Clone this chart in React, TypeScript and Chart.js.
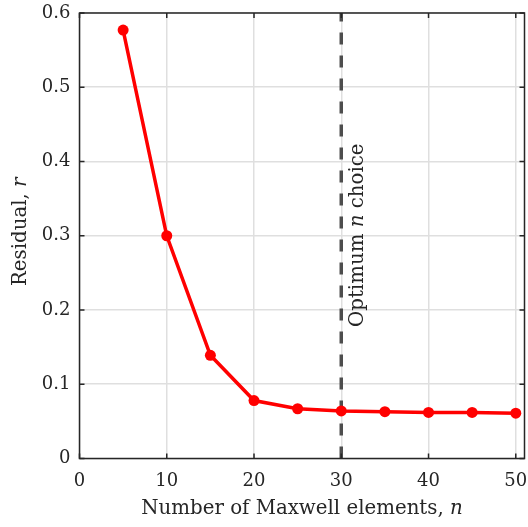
import React, { useEffect, useRef } from "react";
import { Chart, registerables } from "chart.js";

Chart.register(...registerables);

const nValues = [5, 10, 15, 20, 25, 30, 35, 40, 45, 50];
const residuals = [0.577, 0.3, 0.139, 0.078, 0.067, 0.064, 0.063, 0.062, 0.062, 0.061];
const xTicks = [0, 10, 20, 30, 40, 50];
const xTickLabels = ["0", "10", "20", "30", "40", "50"];
const yTicks = [0, 0.1, 0.2, 0.3, 0.4, 0.5, 0.6];
const yTickLabels = ["0", "0.1", "0.2", "0.3", "0.4", "0.5", "0.6"];
const xLimits = [0, 51];
const yLimits = [0, 0.6];
const optimumN = 30;
const xTitleParts = [
  { text: "Number of Maxwell elements, ", italic: false },
  { text: "n", italic: true },
];
const yTitleParts = [
  { text: "Residual, ", italic: false },
  { text: "r", italic: true },
];
const annotationParts = [
  { text: "Optimum ", italic: false },
  { text: "n", italic: true },
  { text: " choice", italic: false },
];

const FAMILY = "'DejaVu Serif', serif";
const FSIZE = 18;
const TSIZE = 19.8;
const TEXT = "#262626";

function drawParts(ctx: CanvasRenderingContext2D, parts: { text: string; italic: boolean }[], x: number, y: number, align: "center" | "left", size: number) {
  const fonts = parts.map((p) => `${p.italic ? "italic " : ""}${size}px ${FAMILY}`);
  let total = 0;
  const widths = parts.map((p, i) => {
    ctx.font = fonts[i];
    const w = ctx.measureText(p.text).width;
    total += w;
    return w;
  });
  let cx = align === "center" ? x - total / 2 : x;
  ctx.textAlign = "left";
  ctx.textBaseline = "middle";
  parts.forEach((p, i) => {
    ctx.font = fonts[i];
    ctx.fillText(p.text, cx, y);
    cx += widths[i];
  });
}

const framePlugin = {
  id: "frame",
  afterDraw(chart: any) {
    const ctx = chart.ctx as CanvasRenderingContext2D;
    const { left, right, top, bottom } = chart.chartArea;
    const xs = chart.scales.x;
    const ys = chart.scales.y;
    ctx.save();
    ctx.strokeStyle = TEXT;
    ctx.lineWidth = 1.5;
    ctx.strokeRect(left, top, right - left, bottom - top);
    const tl = 5;
    ctx.beginPath();
    xTicks.forEach((v) => {
      const px = xs.getPixelForValue(v);
      ctx.moveTo(px, bottom);
      ctx.lineTo(px, bottom - tl);
      ctx.moveTo(px, top);
      ctx.lineTo(px, top + tl);
    });
    yTicks.forEach((v) => {
      const py = ys.getPixelForValue(v);
      ctx.moveTo(left, py);
      ctx.lineTo(left + tl, py);
      ctx.moveTo(right, py);
      ctx.lineTo(right - tl, py);
    });
    ctx.stroke();

    ctx.fillStyle = TEXT;
    drawParts(ctx, xTitleParts, (left + right) / 2, 509, "center", TSIZE);

    ctx.save();
    ctx.translate(21, (top + bottom) / 2 - 4);
    ctx.rotate(-Math.PI / 2);
    drawParts(ctx, yTitleParts, 0, 0, "center", TSIZE);
    ctx.restore();

    ctx.save();
    const ax = xs.getPixelForValue(optimumN) + 16.5;
    ctx.translate(ax, 327);
    ctx.rotate(-Math.PI / 2);
    drawParts(ctx, annotationParts, 0, 0, "left", TSIZE);
    ctx.restore();

    ctx.restore();
  },
};

export default function App() {
  const ref = useRef<HTMLCanvasElement>(null);
  useEffect(() => {
    document.body.style.margin = "0";
    const canvas = ref.current!;
    const chart = new Chart(canvas, {
      type: "line",
      data: {
        datasets: [
          {
            data: nValues.map((n, i) => ({ x: n, y: residuals[i] })),
            borderColor: "#ff0000",
            backgroundColor: "#ff0000",
            borderWidth: 3.5,
            pointRadius: 5.5,
            pointBorderWidth: 0,
            pointHoverRadius: 5.5,
            tension: 0,
            clip: false,
          },
          {
            data: [
              { x: optimumN, y: yLimits[0] },
              { x: optimumN, y: yLimits[1] },
            ],
            borderColor: "#4d4d4d",
            borderWidth: 3.5,
            borderDash: [12, 11],
            pointRadius: 0,
            tension: 0,
          },
        ],
      },
      options: {
        animation: false,
        responsive: false,
        events: [],
        layout: { autoPadding: false, padding: { top: 13, right: 3.5, left: 0, bottom: 0 } },
        plugins: { legend: { display: false }, tooltip: { enabled: false } },
        scales: {
          x: {
            type: "linear",
            min: xLimits[0],
            max: xLimits[1],
            afterBuildTicks: (s: any) => {
              s.ticks = xTicks.map((v) => ({ value: v }));
            },
            afterFit: (s: any) => {
              s.height = 68.5;
              s.paddingLeft = 0;
              s.paddingRight = 0;
            },
            ticks: {
              autoSkip: false,
              maxRotation: 0,
              padding: 12,
              color: TEXT,
              font: { family: FAMILY, size: FSIZE },
              callback: (v: any) => xTickLabels[xTicks.indexOf(Number(v))] ?? "",
            },
            grid: { color: "#dfdfdf", lineWidth: 1.5, drawTicks: false },
            border: { display: false },
          },
          y: {
            type: "linear",
            min: yLimits[0],
            max: yLimits[1],
            afterBuildTicks: (s: any) => {
              s.ticks = yTicks.map((v) => ({ value: v }));
            },
            afterFit: (s: any) => {
              s.width = 79.5;
              s.paddingTop = 0;
              s.paddingBottom = 0;
            },
            ticks: {
              autoSkip: false,
              padding: 9,
              color: TEXT,
              font: { family: FAMILY, size: FSIZE },
              callback: (v: any) => {
                const i = yTicks.findIndex((t) => Math.abs(t - Number(v)) < 1e-9);
                return i >= 0 ? yTickLabels[i] : "";
              },
            },
            grid: { color: "#dfdfdf", lineWidth: 1.5, drawTicks: false },
            border: { display: false },
          },
        },
      },
      plugins: [framePlugin],
    } as any);
    return () => chart.destroy();
  }, []);
  return <canvas ref={ref} width={528} height={527} style={{ display: "block" }} />;
}
